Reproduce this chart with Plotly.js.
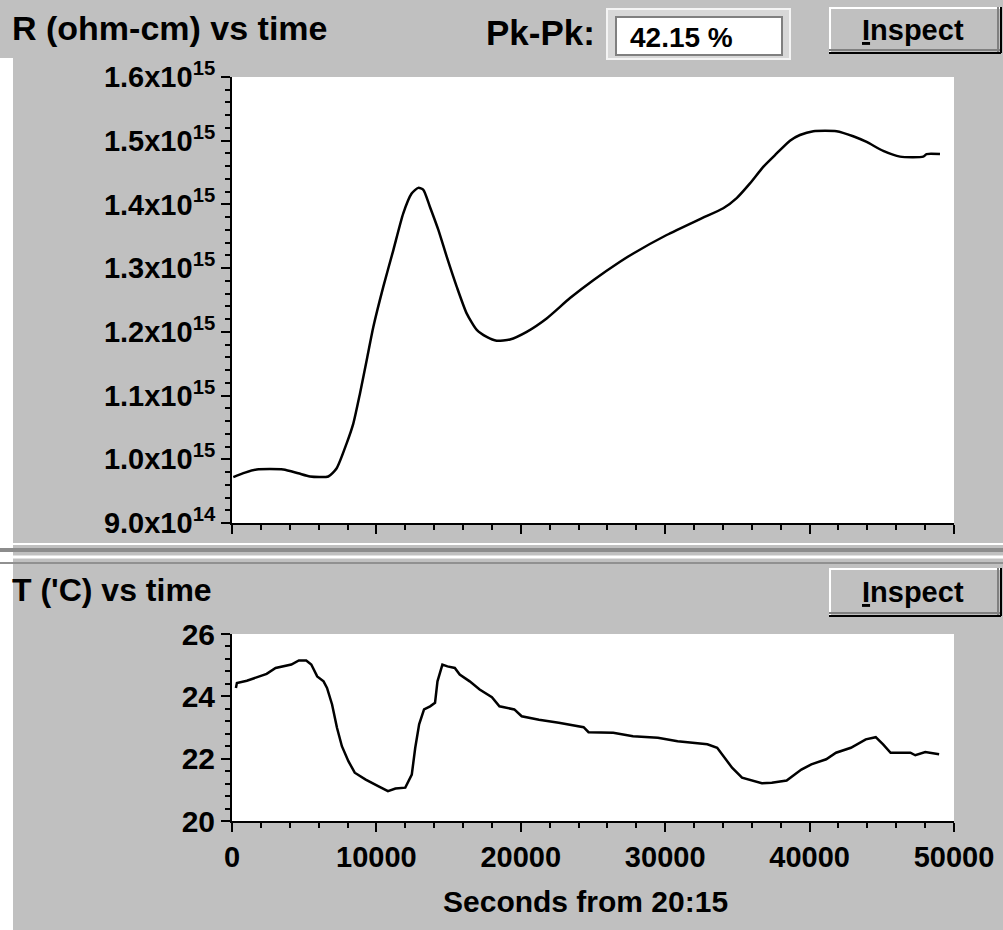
<!DOCTYPE html>
<html><head><meta charset="utf-8">
<script src="https://cdn.plot.ly/plotly-3.0.1.min.js"></script>
<style>html,body{margin:0;padding:0;background:#c0c0c0;}#chart{width:1003px;height:930px;}</style>
</head><body><div id="chart"></div>
<script>
// Resistivity (units of 1e15 ohm-cm) vs time (s)
const timeR = [90,900,1710,3550,4590,5400,6670,7250,7940,8400,8860,9330,9790,10480,11170,11860,12440,12900,13250,13710,14290,14870,15560,16250,16950,17640,18330,19250,20410,21790,23410,25020,26870,27790,30100,32410,34020,34950,35870,36790,37720,38640,39330,40260,41870,43020,43950,45100,46260,47870,48100,49030];
const resistivity = [0.972,0.979,0.984,0.984,0.978,0.973,0.973,0.986,1.025,1.056,1.103,1.156,1.208,1.271,1.328,1.386,1.417,1.426,1.423,1.396,1.360,1.318,1.271,1.229,1.203,1.192,1.186,1.188,1.200,1.221,1.253,1.281,1.310,1.323,1.352,1.377,1.394,1.410,1.433,1.459,1.480,1.500,1.509,1.515,1.515,1.507,1.498,1.484,1.475,1.475,1.479,1.479];
// Temperature ('C) vs time (s)
const timeT = [270,340,1030,1710,2400,3020,4110,4630,5140,5490,5900,6340,6580,6930,7270,7610,8060,8500,9260,10120,10800,11320,12000,12450,12690,12960,13300,13720,14060,14230,14570,14920,15430,15770,16460,17150,18000,18520,19550,20060,21260,22630,24350,24690,26400,27770,29490,30860,32920,33600,34630,35320,36690,37380,38410,39430,40120,41150,41830,42860,43890,44580,45090,45610,46980,47320,48010,48970];
const temperature = [24.27,24.43,24.50,24.61,24.72,24.91,25.02,25.15,25.15,25.02,24.64,24.48,24.27,23.74,22.99,22.40,21.92,21.55,21.33,21.12,20.96,21.04,21.07,21.49,22.35,23.10,23.58,23.68,23.79,24.48,25.02,24.96,24.91,24.70,24.48,24.22,23.97,23.68,23.58,23.36,23.25,23.15,23.01,22.85,22.83,22.72,22.67,22.56,22.46,22.35,21.71,21.39,21.21,21.23,21.30,21.65,21.82,21.98,22.19,22.35,22.62,22.69,22.46,22.19,22.19,22.11,22.21,22.14];

const rTickVals = [0.9,1.0,1.1,1.2,1.3,1.4,1.5,1.6];
const rTickText = ['9.0x10<sup>14</sup>','1.0x10<sup>15</sup>','1.1x10<sup>15</sup>','1.2x10<sup>15</sup>','1.3x10<sup>15</sup>','1.4x10<sup>15</sup>','1.5x10<sup>15</sup>','1.6x10<sup>15</sup>'];
const tTickVals = [20,22,24,26];
const tTickText = ['20','22','24','26'];
const xTickVals = [0,10000,20000,30000,40000,50000];
const xTickText = ['0','10000','20000','30000','40000','50000'];

const W = 1003, H = 930;
const fx = p => p / W, fy = p => 1 - p / H;
const FAM = 'Liberation Sans, Arial, sans-serif';
const bold = (s) => ({family: FAM, size: s, color: '#000', weight: 'bold'});

const baseAxis = {
  showline: true, linecolor: '#000', linewidth: 2, mirror: false,
  showgrid: false, zeroline: false, ticks: 'outside', tickcolor: '#000',
  tickwidth: 2, ticklen: 9, fixedrange: true
};

const traces = [
  {x: timeR, y: resistivity, xaxis: 'x', yaxis: 'y', type: 'scatter', mode: 'lines',
   line: {color: '#000', width: 2.5, shape: 'spline', smoothing: 0.6}, hoverinfo: 'skip'},
  {x: timeT, y: temperature, xaxis: 'x2', yaxis: 'y2', type: 'scatter', mode: 'lines',
   line: {color: '#000', width: 2.5}, hoverinfo: 'skip'}
];

function rect(x0, y0, x1, y1, fill, line, lw) {
  return {type: 'rect', xref: 'paper', yref: 'paper', x0: fx(x0), x1: fx(x1), y0: fy(y1), y1: fy(y0),
          fillcolor: fill, line: {color: line || 'rgba(0,0,0,0)', width: lw || 0}, layer: 'below'};
}
function hline(x0, x1, y, color, w) {
  return {type: 'line', xref: 'paper', yref: 'paper', x0: fx(x0), x1: fx(x1), y0: fy(y), y1: fy(y),
          line: {color: color, width: w}, layer: 'below'};
}
function vline(x, y0, y1, color, w) {
  return {type: 'line', xref: 'paper', yref: 'paper', x0: fx(x), x1: fx(x), y0: fy(y0), y1: fy(y1),
          line: {color: color, width: w}, layer: 'below'};
}
function button(x0, y0, x1, y1) {
  return [
    rect(x0, y0, x1, y1, '#c0c0c0'),
    hline(x0, x1, y0 + 1, '#ffffff', 2),
    vline(x0 + 1, y0, y1, '#ffffff', 2),
    hline(x0, x1, y1 - 3, '#808080', 2),
    vline(x1 - 3, y0, y1, '#808080', 2),
    hline(x0, x1, y1, '#000000', 2),
    vline(x1, y0, y1, '#000000', 2)
  ];
}

const shapes = [
  rect(0, 58, 13, 930, '#ffffff'),
  // separator
  hline(0, 1003, 544, '#ffffff', 2),
  hline(0, 1003, 550, '#8c8c8c', 4),
  hline(0, 1003, 557, '#ffffff', 3),
  hline(0, 1003, 563, '#909090', 2),
  // Pk-Pk box
  rect(607, 9, 790, 59, '#d8d8d8', '#f4f4f4', 2),
  rect(616, 17, 782, 55, '#ffffff', '#808080', 2),
  ...button(829, 7, 1001, 53),
  ...button(829, 568, 1001, 616)
];

function ann(text, x, y, xanchor, font) {
  return {text: text, xref: 'paper', yref: 'paper', x: fx(x), y: fy(y), xanchor: xanchor,
          yanchor: 'middle', showarrow: false, font: font};
}

const annotations = [
  ann('R (ohm-cm) vs time', 10, 28, 'left', bold(34)),
  ann('Pk-Pk:', 597, 32, 'right', bold(35)),
  ann('42.15 %', 628, 37, 'left', bold(28)),
  ann('<u>I</u>nspect', 913, 30, 'center', bold(29)),
  ann("T ('C) vs time", 10, 590, 'left', bold(32)),
  ann('<u>I</u>nspect', 913, 592, 'center', bold(29)),
  ann('Seconds from 20:15', 585, 901, 'center', bold(30))
];

const layout = {
  width: W, height: H, margin: {l: 0, r: 0, t: 0, b: 0},
  paper_bgcolor: '#c0c0c0', plot_bgcolor: '#ffffff', showlegend: false,
  font: {family: FAM, color: '#000'},
  xaxis: Object.assign({}, baseAxis, {
    domain: [fx(232), fx(954)], range: [0, 50000], anchor: 'y',
    tickmode: 'array', tickvals: xTickVals, showticklabels: false,
    minor: {dtick: 2000, tick0: 0, ticks: 'outside', ticklen: 5, tickwidth: 2, tickcolor: '#000', showgrid: false}
  }),
  yaxis: Object.assign({}, baseAxis, {
    domain: [fy(523), fy(77)], range: [0.9, 1.6], anchor: 'x',
    tickmode: 'array', tickvals: rTickVals, ticktext: rTickText, tickfont: bold(29),
    ticklabelstandoff: 0,
    minor: {dtick: 0.02, tick0: 0.9, ticks: 'outside', ticklen: 5, tickwidth: 2, tickcolor: '#000', showgrid: false}
  }),
  xaxis2: Object.assign({}, baseAxis, {
    domain: [fx(232), fx(954)], range: [0, 50000], anchor: 'y2',
    tickmode: 'array', tickvals: xTickVals, ticktext: xTickText, tickfont: bold(29),
    minor: {dtick: 2000, tick0: 0, ticks: 'outside', ticklen: 5, tickwidth: 2, tickcolor: '#000', showgrid: false}
  }),
  yaxis2: Object.assign({}, baseAxis, {
    domain: [fy(821), fy(634)], range: [20, 26], anchor: 'x2',
    tickmode: 'array', tickvals: tTickVals, ticktext: tTickText, tickfont: bold(30),
    minor: {dtick: 0.4, tick0: 20, ticks: 'outside', ticklen: 5, tickwidth: 2, tickcolor: '#000', showgrid: false}
  }),
  shapes: shapes,
  annotations: annotations
};

Plotly.newPlot('chart', traces, layout, {staticPlot: true, displayModeBar: false});
</script>
</body></html>
